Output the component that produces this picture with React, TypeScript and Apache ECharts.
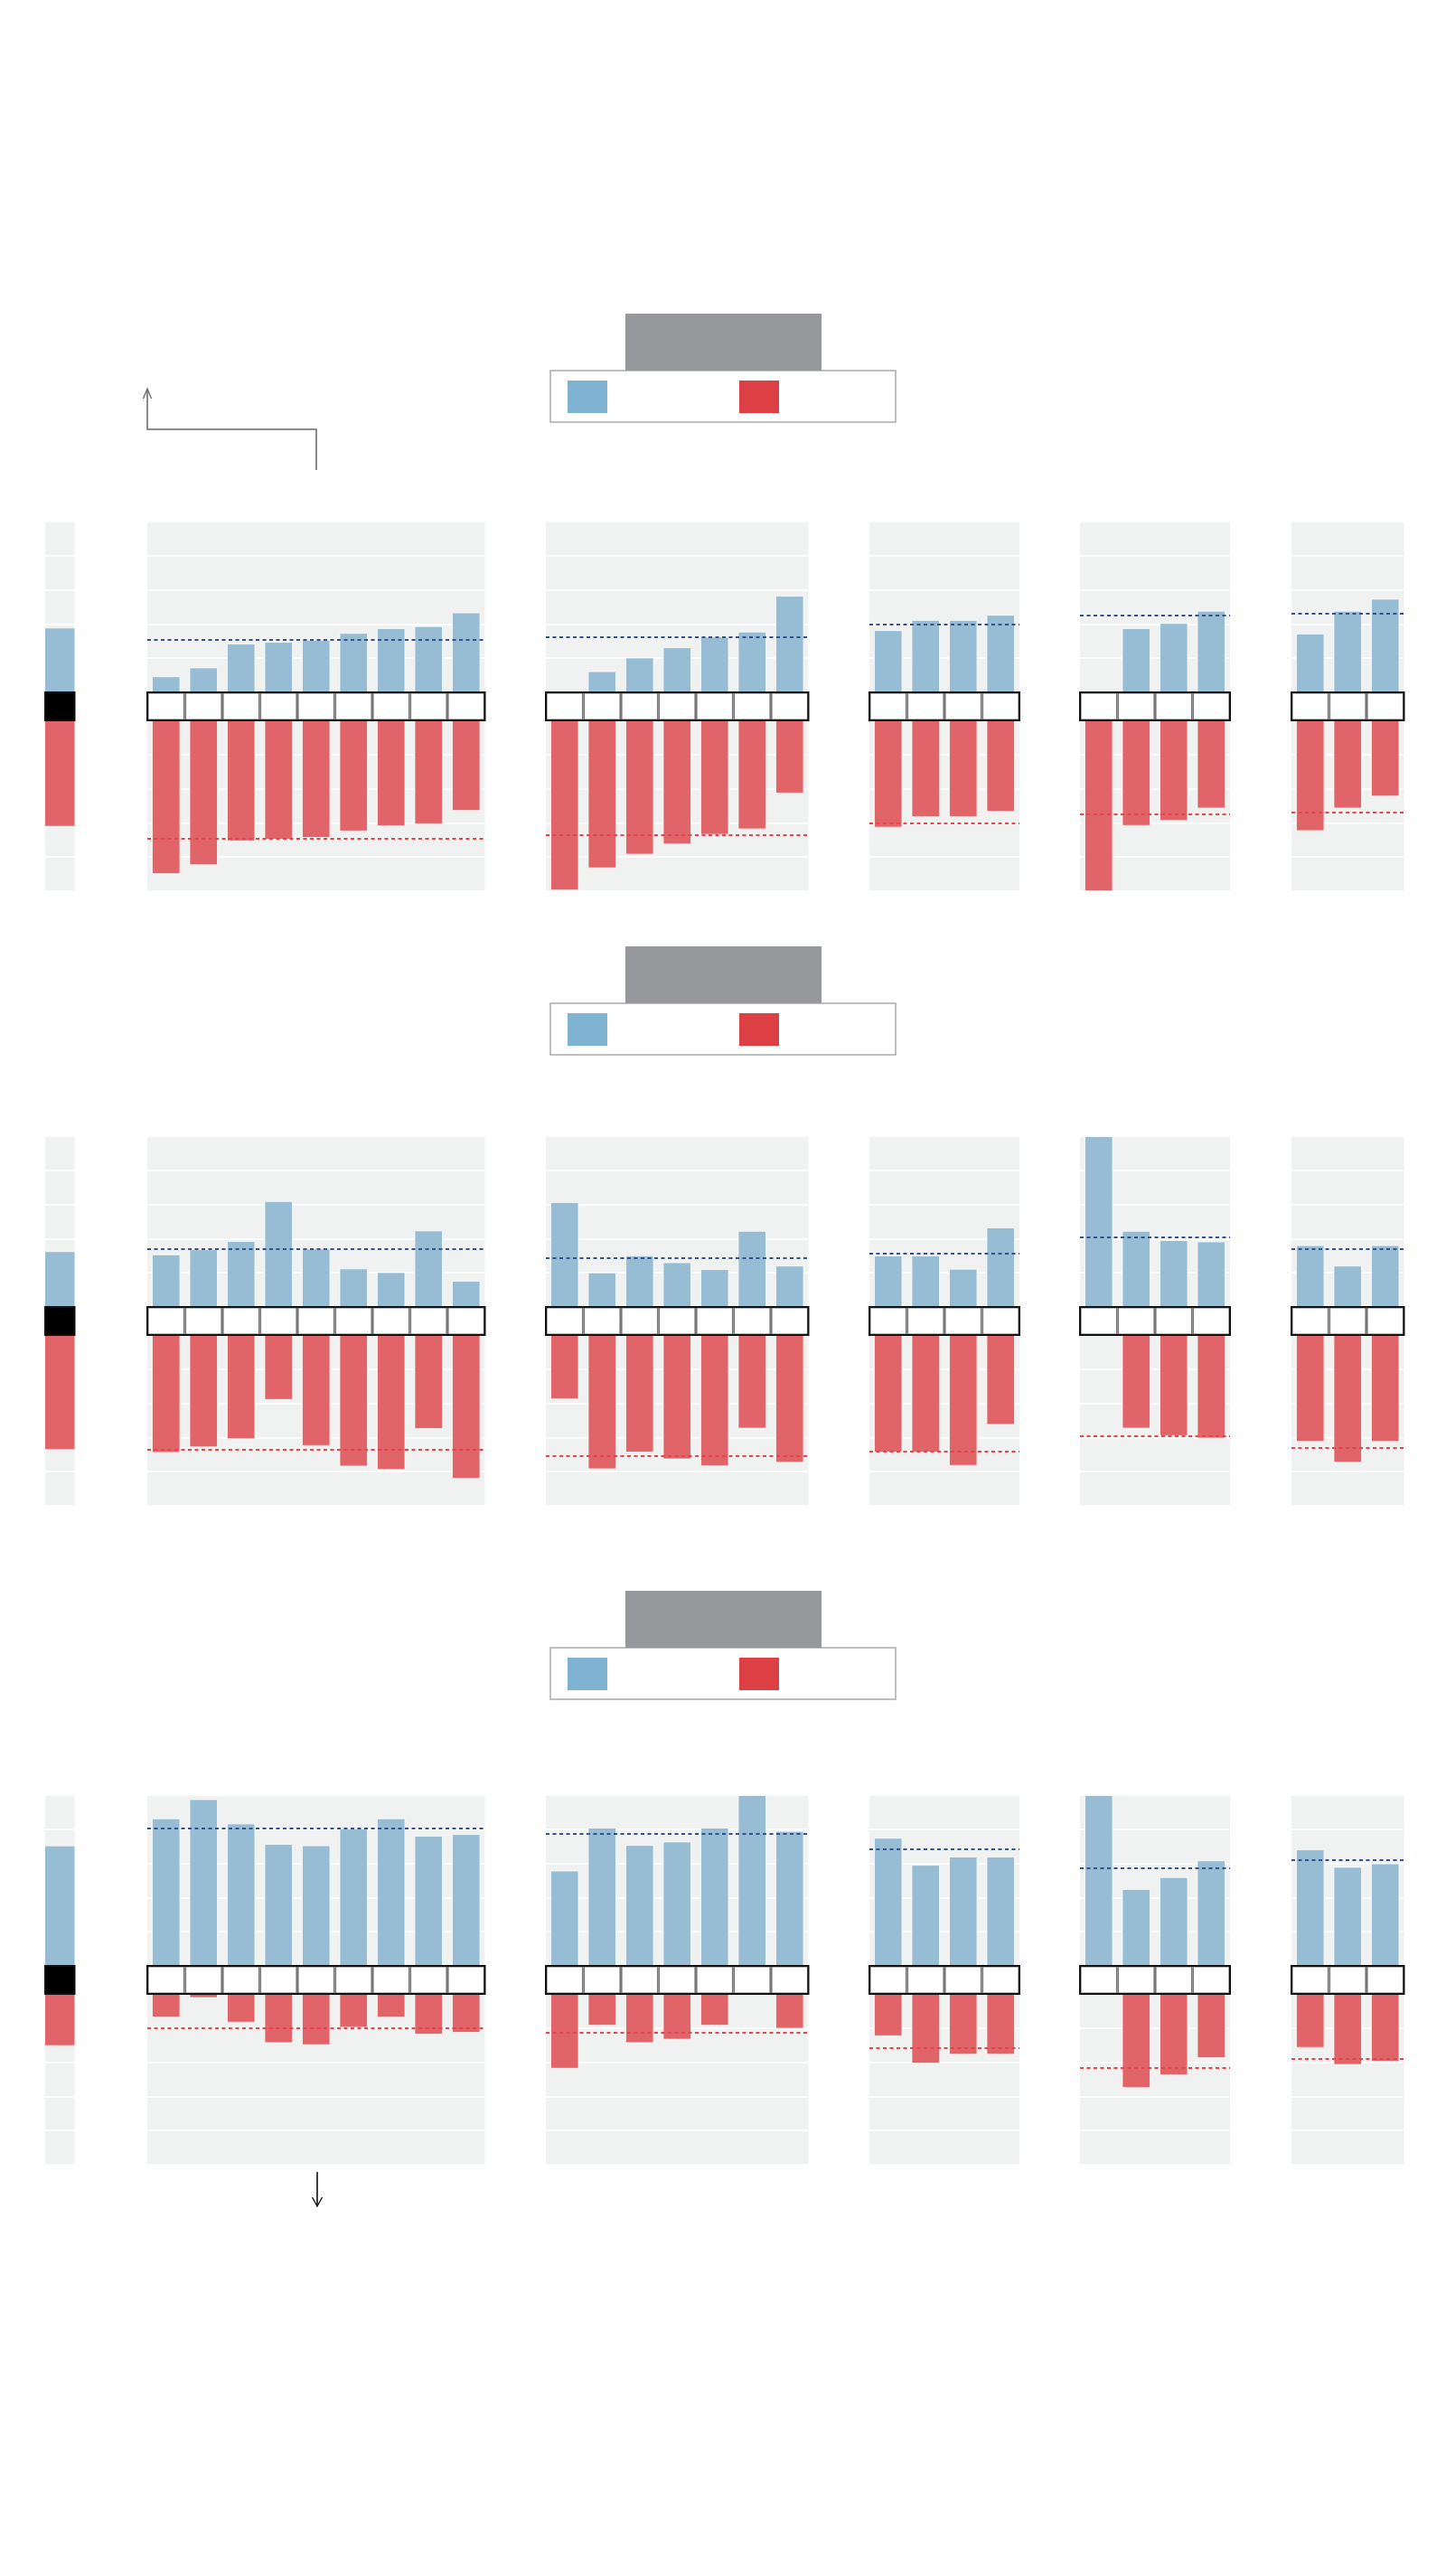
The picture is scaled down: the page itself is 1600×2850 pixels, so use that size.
import React, { useEffect, useRef } from "react";
import * as echarts from "echarts";

// ---------- DATA ----------
const panelCategories: string[][] = [
  ["c1", "c2", "c3", "c4", "c5", "c6", "c7", "c8", "c9"],
  ["d1", "d2", "d3", "d4", "d5", "d6", "d7"],
  ["e1", "e2", "e3", "e4"],
  ["f1", "f2", "f3", "f4"],
  ["g1", "g2", "g3"],
];
const stripCategory = ["all"];

// Row 1
const blue1 = [
  [4.7, 7.3, 14.3, 14.8, 15.4, 17.4, 18.8, 19.4, 23.4],
  [0, 6.2, 10.2, 13.2, 16.3, 17.8, 28.3],
  [18.2, 21.2, 21.2, 22.7],
  [0, 18.8, 20.3, 23.9],
  [17.2, 23.9, 27.4],
];
const red1 = [
  [45.0, 42.4, 35.4, 34.9, 34.4, 32.5, 31.0, 30.4, 26.5],
  [49.8, 43.3, 39.3, 36.3, 33.5, 31.9, 21.4],
  [31.4, 28.3, 28.3, 26.8],
  [50, 30.9, 29.4, 25.8],
  [32.4, 25.8, 22.3],
];
const blueAvg1 = [15.5, 16.3, 19.9, 22.5, 23.0];
const redAvg1 = [34.6, 33.4, 30.0, 27.5, 27.0];
const strip1 = [18.7, 30.9];

// Row 2
const blue2 = [
  [15.4, 16.9, 19.3, 31.0, 17.1, 11.3, 10.2, 22.4, 7.7],
  [30.7, 10.1, 15.1, 13.1, 11.1, 22.3, 12.1],
  [15.1, 15.1, 11.2, 23.3],
  [50, 22.3, 19.6, 19.2],
  [18.1, 12.1, 18.1],
];
const red2 = [
  [34.5, 32.9, 30.5, 19.0, 32.5, 38.5, 39.5, 27.5, 42.1],
  [18.8, 39.3, 34.4, 36.4, 38.4, 27.4, 37.4],
  [34.4, 34.4, 38.3, 26.3],
  [0, 27.4, 29.6, 30.3],
  [31.3, 37.4, 31.3],
];
const blueAvg2 = [16.9, 14.3, 15.8, 20.4, 16.9];
const redAvg2 = [33.5, 35.4, 34.0, 29.6, 33.1];
const strip2 = [16.1, 33.4];

// Row 3
const blue3 = [
  [43.2, 48.8, 41.7, 35.7, 35.3, 40.2, 43.2, 38.1, 38.6],
  [27.9, 40.5, 35.4, 36.4, 40.5, 50, 39.5],
  [37.5, 29.6, 32.0, 32.0],
  [50, 22.5, 26.0, 30.9],
  [34.1, 29.0, 30.0],
];
const red3 = [
  [6.9, 1.2, 8.4, 14.4, 15.0, 9.9, 6.9, 11.9, 11.4],
  [21.9, 9.3, 14.4, 13.4, 9.3, 0, 10.2],
  [12.4, 20.4, 17.8, 17.8],
  [0, 27.5, 23.8, 18.8],
  [15.8, 20.8, 19.9],
];
const blueAvg3 = [40.3, 38.7, 34.2, 28.7, 31.1];
const redAvg3 = [9.9, 11.4, 15.9, 21.7, 19.1];
const strip3 = [35.0, 15.0];

const scaleMax = 50;
const scaleStep = 10;

// ---------- LAYOUT / STYLE ----------
const CELL = 41.5;
const PANEL_LEFT = [163, 604, 962, 1195, 1429];
const STRIP_LEFT = 50;
const STRIP_W = 32.5;
const ROW_TOP = [577, 1257, 1986];
const HALF_H = 189;
const BAND_H = 31;
const HEADER_TOP = [347, 1047, 1760];

const BG = "#f0f2f1";
const BLUE = "#97bdd5";
const RED = "#e06468";
const BLUE_LINE = "#34508e";
const RED_LINE = "#e3454c";

function buildOption() {
  const grids: any[] = [];
  const xAxes: any[] = [];
  const yAxes: any[] = [];
  const series: any[] = [];

  const rows = [
    { blue: blue1, red: red1, bAvg: blueAvg1, rAvg: redAvg1, strip: strip1 },
    { blue: blue2, red: red2, bAvg: blueAvg2, rAvg: redAvg2, strip: strip2 },
    { blue: blue3, red: red3, bAvg: blueAvg3, rAvg: redAvg3, strip: strip3 },
  ];

  const valueAxis = (gi: number, inverse: boolean) => ({
    type: "value",
    gridIndex: gi,
    min: 0,
    max: scaleMax,
    interval: scaleStep,
    inverse,
    axisLabel: { show: false },
    axisLine: { show: false },
    axisTick: { show: false },
    splitLine: { show: true, lineStyle: { color: "#ffffff", width: 1.5 } },
  });

  const avgLine = (value: number | null, color: string) =>
    value === null
      ? undefined
      : {
          silent: true,
          symbol: "none",
          label: { show: false },
          lineStyle: { color, type: [4, 3.5], width: 2.2, opacity: 1 },
          data: [{ yAxis: value }],
        };

  const addGroup = (
    left: number,
    width: number,
    rowTop: number,
    cats: string[],
    blue: number[],
    red: number[],
    bAvg: number | null,
    rAvg: number | null,
    strip: boolean
  ) => {
    const gi = grids.length;
    grids.push({ left, top: rowTop, width, height: HALF_H, show: true, backgroundColor: BG, borderWidth: 0 });
    grids.push({
      left,
      top: rowTop + HALF_H,
      width,
      height: BAND_H,
      show: true,
      backgroundColor: "transparent",
      borderColor: "#111111",
      borderWidth: 2,
      z: 10,
    });
    grids.push({ left, top: rowTop + HALF_H + BAND_H, width, height: HALF_H, show: true, backgroundColor: BG, borderWidth: 0 });
    for (let k = 0; k < 3; k++) {
      xAxes.push({ type: "category", gridIndex: gi + k, data: cats, show: false });
    }
    yAxes.push(valueAxis(gi, false));
    yAxes.push({ type: "value", gridIndex: gi + 1, min: 0, max: 1, show: false, splitLine: { show: false } });
    yAxes.push(valueAxis(gi + 2, true));

    const barW = strip ? "100%" : "76%";
    series.push({
      type: "bar",
      xAxisIndex: gi,
      yAxisIndex: gi,
      data: blue,
      barWidth: barW,
      itemStyle: { color: BLUE, borderColor: strip ? BLUE : "rgba(255,255,255,0.75)", borderWidth: strip ? 0 : 1 },
      markLine: avgLine(bAvg, BLUE_LINE),
      z: 3,
    });
    series.push({
      type: "bar",
      xAxisIndex: gi + 1,
      yAxisIndex: gi + 1,
      data: cats.map(() => 1),
      barWidth: "100%",
      itemStyle: strip
        ? { color: "#000000", borderColor: "#000000", borderWidth: 1 }
        : { color: "#ffffff", borderColor: "#777777", borderWidth: 1.6 },
      z: 4,
    });
    series.push({
      type: "bar",
      xAxisIndex: gi + 2,
      yAxisIndex: gi + 2,
      data: red,
      barWidth: barW,
      itemStyle: { color: RED, borderColor: strip ? RED : "rgba(255,255,255,0.75)", borderWidth: strip ? 0 : 1 },
      markLine: avgLine(rAvg, RED_LINE),
      z: 3,
    });
  };

  rows.forEach((row, r) => {
    const top = ROW_TOP[r];
    addGroup(STRIP_LEFT, STRIP_W, top, stripCategory, [row.strip[0]], [row.strip[1]], null, null, true);
    panelCategories.forEach((cats, p) => {
      addGroup(PANEL_LEFT[p], cats.length * CELL, top, cats, row.blue[p], row.red[p], row.bAvg[p], row.rAvg[p], false);
    });
  });

  const graphics: any[] = [];
  HEADER_TOP.forEach((y) => {
    graphics.push({
      type: "rect",
      shape: { x: 609, y: y + 63, width: 382, height: 57 },
      style: { fill: "#ffffff", stroke: "#aaaaaa", lineWidth: 1.5 },
      z: 10,
    });
    graphics.push({
      type: "rect",
      shape: { x: 692, y: y, width: 217, height: 63 },
      style: { fill: "#97989c" },
      z: 11,
    });
    graphics.push({
      type: "rect",
      shape: { x: 628, y: y + 74, width: 44, height: 36 },
      style: { fill: "#80b3d1" },
      z: 11,
    });
    graphics.push({
      type: "rect",
      shape: { x: 818, y: y + 74, width: 44, height: 36 },
      style: { fill: "#dc4044" },
      z: 11,
    });
  });

  // top elbow arrow
  graphics.push({
    type: "polyline",
    shape: { points: [[163, 431], [163, 475], [350, 475], [350, 520]] },
    style: { stroke: "#666666", lineWidth: 1.5, fill: null },
    z: 10,
  });
  graphics.push({
    type: "polyline",
    shape: { points: [[158.5, 441], [163, 430], [167.5, 441]] },
    style: { stroke: "#666666", lineWidth: 1.3, fill: null },
    z: 10,
  });
  // bottom arrow
  graphics.push({
    type: "line",
    shape: { x1: 351, y1: 2403, x2: 351, y2: 2441 },
    style: { stroke: "#000000", lineWidth: 1.5 },
    z: 10,
  });
  graphics.push({
    type: "polyline",
    shape: { points: [[345.5, 2431], [351, 2441], [356.5, 2431]] },
    style: { stroke: "#000000", lineWidth: 1.3, fill: null },
    z: 10,
  });

  return {
    animation: false,
    backgroundColor: "#ffffff",
    grid: grids,
    xAxis: xAxes,
    yAxis: yAxes,
    series,
    graphic: graphics,
  };
}

export default function App() {
  const ref = useRef<HTMLDivElement>(null);
  useEffect(() => {
    if (!ref.current) return;
    const chart = echarts.init(ref.current, undefined, { renderer: "svg" });
    chart.setOption(buildOption() as any);
    return () => chart.dispose();
  }, []);
  return (
    <div
      ref={ref}
      style={{ position: "absolute", left: 0, top: 0, width: 1600, height: 2850, background: "#fff" }}
    />
  );
}
